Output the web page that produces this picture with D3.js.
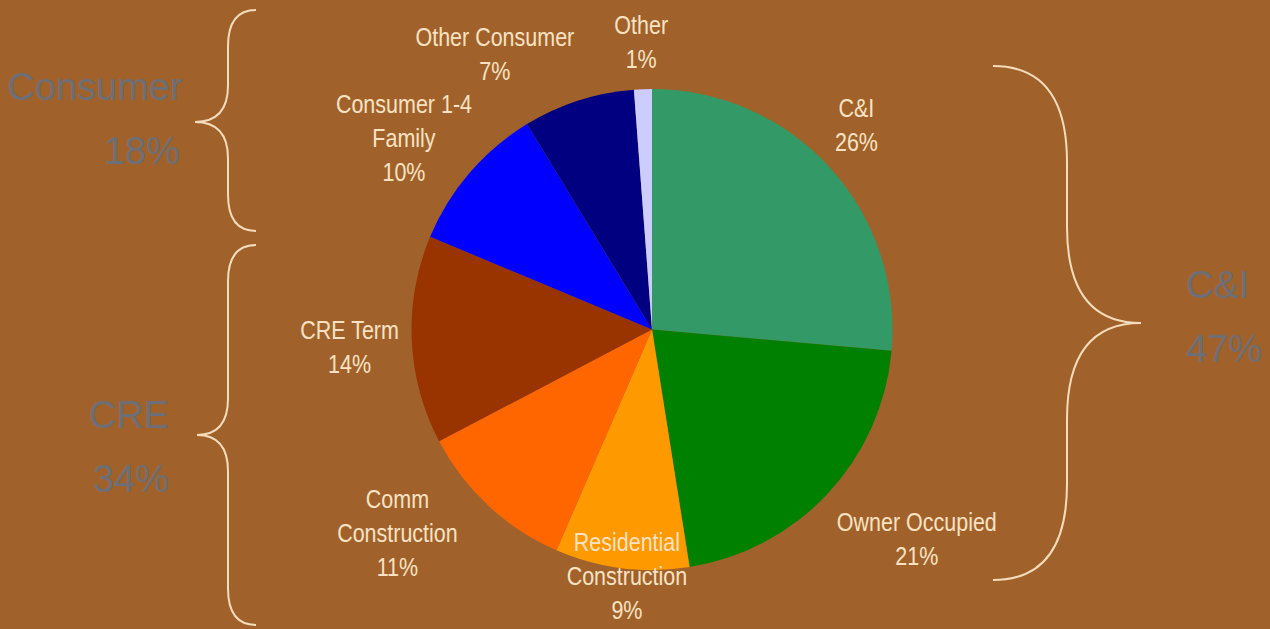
<!DOCTYPE html>
<html>
<head>
<meta charset="utf-8">
<script src="https://cdn.jsdelivr.net/npm/d3@7"></script>
<style>
  html, body { margin: 0; padding: 0; background: #a0622a; }
  svg { display: block; }
  .slice-label { font-family: "Liberation Sans", Arial, sans-serif; font-size: 25px; fill: #f9e2c4; }
  .group-label { font-family: "Liberation Sans", Arial, sans-serif; font-size: 38px; fill: #6c6f77; }
</style>
</head>
<body>
<svg width="1270" height="629"></svg>
<script>
// slices, clockwise from 12 o'clock
let categories = ['C&I', 'Owner Occupied', 'Residential Construction', 'Comm Construction', 'CRE Term', 'Consumer 1-4 Family', 'Other Consumer', 'Other']
let values = [26.4, 21.1, 9.0, 10.8, 14.0, 10.0, 7.5, 1.2]
let pctLabels = ['26%', '21%', '9%', '11%', '14%', '10%', '7%', '1%']
let labelLines = [['C&I'], ['Owner Occupied'], ['Residential', 'Construction'], ['Comm', 'Construction'], ['CRE Term'], ['Consumer 1-4', 'Family'], ['Other Consumer'], ['Other']]
let colors = ['#339966', '#008000', '#ff9900', '#ff6600', '#993300', '#0000ff', '#000080', '#ccccff']

// groups shown with braces
let groupNames = ['Consumer', 'CRE', 'C&I']
let groupPcts = ['18%', '34%', '47%']

let svg = d3.select('svg')
let cx = 652, cy = 329.5, r = 240.5

let data = categories.map((c, i) => ({ name: c, value: values[i], pct: pctLabels[i], lines: labelLines[i], color: colors[i] }))

let pie = d3.pie().sort(null).value(d => d.value)
let arc = d3.arc().innerRadius(0).outerRadius(r)
let arcs = pie(data)

let g = svg.append('g').attr('transform', `translate(${cx},${cy})`)

g.selectAll('path')
    .data(arcs)
    .enter()
    .append('path')
    .attr('d', arc)
    .attr('fill', d => d.data.color)

// label placement: angle nudge (deg) from slice middle, distance from centre
let labelNudge = [-2.5, -4.6, -1.4, 8.5, -0.9, -3.1, -11.9, 0]
let labelDist = [289, 338, 248, 326, 303, 313, 317, 287]
let lineH = 34
let squeeze = 0.86   // narrow-looking label font

arcs.forEach((a, i) => {
    let mid = (a.startAngle + a.endAngle) / 2 + labelNudge[i] * Math.PI / 180
    let x = Math.sin(mid) * labelDist[i]
    let y = -Math.cos(mid) * labelDist[i]
    let lines = a.data.lines.concat([a.data.pct])
    let top = y - (lines.length - 1) * lineH / 2
    let t = g.append('text')
        .attr('class', 'slice-label')
        .attr('text-anchor', 'middle')
        .attr('transform', `translate(${x},0) scale(${squeeze},1)`)
    lines.forEach((ln, k) => {
        t.append('tspan')
            .attr('x', 0)
            .attr('y', top + k * lineH)
            .attr('dy', '0.35em')
            .text(ln)
    })
})

// curly braces
let brace = (x0, y0, y1, tipX, tipY, xv) => {
    let p = d3.path()
    let k = Math.abs(xv - x0)
    let s = y1 > y0 ? 1 : -1
    p.moveTo(x0, y0)
    p.quadraticCurveTo(xv, y0, xv, y0 + s * k * 1.3)
    p.lineTo(xv, tipY - s * k * 1.3)
    p.quadraticCurveTo(xv, tipY, tipX, tipY)
    p.quadraticCurveTo(xv, tipY, xv, tipY + s * k * 1.3)
    p.lineTo(xv, y1 - s * k * 1.3)
    p.quadraticCurveTo(xv, y1, x0, y1)
    return p.toString()
}

let braces = [
    brace(256, 10, 231, 195, 122, 228),
    brace(256, 245, 625, 197, 435, 228),
    brace(993, 66, 580, 1141, 323, 1067)
]
svg.selectAll('path.brace')
    .data(braces)
    .enter()
    .append('path')
    .attr('class', 'brace')
    .attr('d', d => d)
    .attr('fill', 'none')
    .attr('stroke', '#f4dcbc')
    .attr('stroke-width', 2)

// group labels
let groupPos = [
    { x: 180, y: 100, anchor: 'end' },
    { x: 169, y: 428, anchor: 'end' },
    { x: 1186, y: 298, anchor: 'start' }
]
groupNames.forEach((n, i) => {
    let p = groupPos[i]
    let t = svg.append('text')
        .attr('class', 'group-label')
        .attr('text-anchor', p.anchor)
    t.append('tspan').attr('x', i === 0 ? 95 : p.x).attr('y', p.y)
        .attr('text-anchor', i === 0 ? 'middle' : p.anchor).text(n)
    t.append('tspan').attr('x', p.x).attr('y', p.y + 64).text(groupPcts[i])
})
</script>
</body>
</html>
